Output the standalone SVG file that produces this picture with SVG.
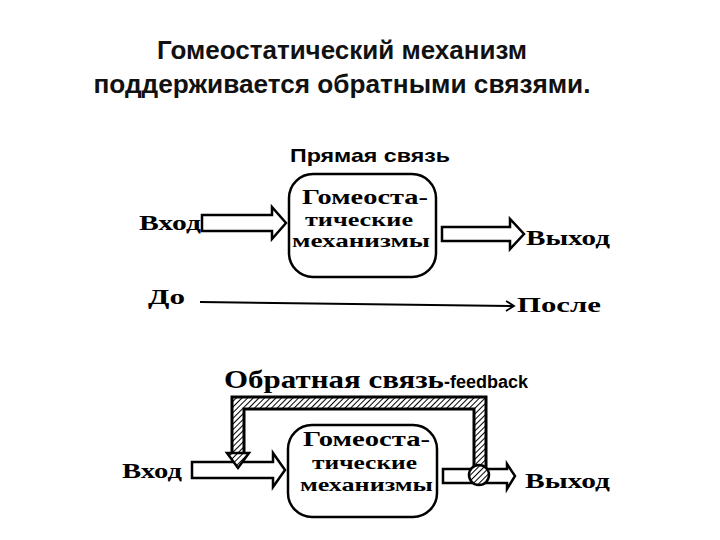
<svg xmlns="http://www.w3.org/2000/svg" width="720" height="540" viewBox="0 0 720 540">
<style>
.title{font-family:"Liberation Sans",Arial,sans-serif;font-weight:bold;font-size:25px;fill:#111;text-anchor:middle}
.serif{font-family:"Liberation Serif","Times New Roman",serif;font-weight:bold;fill:#000}
.sans{font-family:"Liberation Sans",Arial,sans-serif;font-weight:bold;fill:#000}
.box{fill:#fff;stroke:#000;stroke-width:2.5}
.barrow{fill:#fff;stroke:#000;stroke-width:2.5;stroke-linejoin:miter}
</style>
<defs>
<pattern id="hatch" patternUnits="userSpaceOnUse" width="4" height="4" patternTransform="rotate(45)">
<rect width="4" height="4" fill="#fff"/>
<line x1="0" y1="0" x2="0" y2="4" stroke="#000" stroke-width="2"/>
</pattern>
<marker id="chev" markerWidth="12" markerHeight="12" refX="10" refY="6" orient="auto" markerUnits="userSpaceOnUse">
<path d="M2,1 L10,6 L2,11" fill="none" stroke="#000" stroke-width="1.8"/>
</marker>
</defs>
<rect width="720" height="540" fill="#fff"/>
<g id="title">
<text class="title" x="342" y="59" textLength="370" lengthAdjust="spacingAndGlyphs">Гомеостатический механизм</text>
<text class="title" x="342" y="93" textLength="497" lengthAdjust="spacingAndGlyphs">поддерживается обратными связями.</text>
</g>
<g id="top-label"><text class="sans" x="290" y="162" font-size="19" textLength="160" lengthAdjust="spacingAndGlyphs">Прямая связь</text></g>
<g id="top-box">
<rect class="box" x="289" y="174" width="147" height="103" rx="24"/>
<text class="serif" x="302" y="204" font-size="22" textLength="126" lengthAdjust="spacingAndGlyphs">Гомеоста-</text>
<text class="serif" x="305" y="226" font-size="19" textLength="108" lengthAdjust="spacingAndGlyphs">тические</text>
<text class="serif" x="292" y="247" font-size="19" textLength="138" lengthAdjust="spacingAndGlyphs">механизмы</text>
</g>
<g id="top-in"><text class="serif" x="139" y="230" font-size="22" textLength="62" lengthAdjust="spacingAndGlyphs">Вход</text></g>
<g id="top-out"><text class="serif" x="526" y="245" font-size="22" textLength="84" lengthAdjust="spacingAndGlyphs">Выход</text></g>
<g id="before"><text class="serif" x="148" y="304" font-size="22" textLength="37" lengthAdjust="spacingAndGlyphs">До</text></g>
<g id="after"><text class="serif" x="517" y="312" font-size="22" textLength="84" lengthAdjust="spacingAndGlyphs">После</text></g>
<g id="fb-label">
<text x="224" y="388"><tspan class="serif" font-size="25" textLength="220" lengthAdjust="spacingAndGlyphs">Обратная связь</tspan><tspan class="sans" font-size="18">-feedback</tspan></text>
</g>
<g id="bottom-box">
<rect class="box" x="288" y="425" width="149" height="92" rx="24"/>
<text class="serif" x="303" y="446" font-size="22" textLength="127" lengthAdjust="spacingAndGlyphs">Гомеоста-</text>
<text class="serif" x="312" y="469" font-size="19" textLength="105" lengthAdjust="spacingAndGlyphs">тические</text>
<text class="serif" x="300" y="491" font-size="19" textLength="133" lengthAdjust="spacingAndGlyphs">механизмы</text>
</g>
<g id="bottom-in"><text class="serif" x="122" y="478" font-size="22" textLength="60" lengthAdjust="spacingAndGlyphs">Вход</text></g>
<g id="bottom-out"><text class="serif" x="525" y="488" font-size="22" textLength="85" lengthAdjust="spacingAndGlyphs">Выход</text></g>
<g id="connectors">
<path class="barrow" d="M202,215 H272 V207 L286,223 L272,239 V231 H202 Z"/>
<path class="barrow" d="M442,227 H510 V219 L524,234 L510,249 V241 H442 Z"/>
<line x1="200" y1="302" x2="514" y2="306" stroke="#000" stroke-width="2" marker-end="url(#chev)"/>
<path class="barrow" d="M192,462 H273 V453 L285,470 L273,487 V478 H192 Z"/>
<path class="barrow" d="M443,469 H507 V464 L515,476 L507,489 V483 H443 Z"/>
<path d="M480,472 V403 H238 V456" fill="none" stroke="#000" stroke-width="15" stroke-linejoin="miter"/>
<path d="M480,472 V403 H238 V456" fill="none" stroke="url(#hatch)" stroke-width="9" stroke-linejoin="miter"/>
<path d="M227,453 H249 L238,468 Z" fill="url(#hatch)" stroke="#000" stroke-width="2.5"/>
<circle cx="479" cy="475" r="10" fill="url(#hatch)" stroke="#000" stroke-width="2.5"/>
</g>
</svg>
